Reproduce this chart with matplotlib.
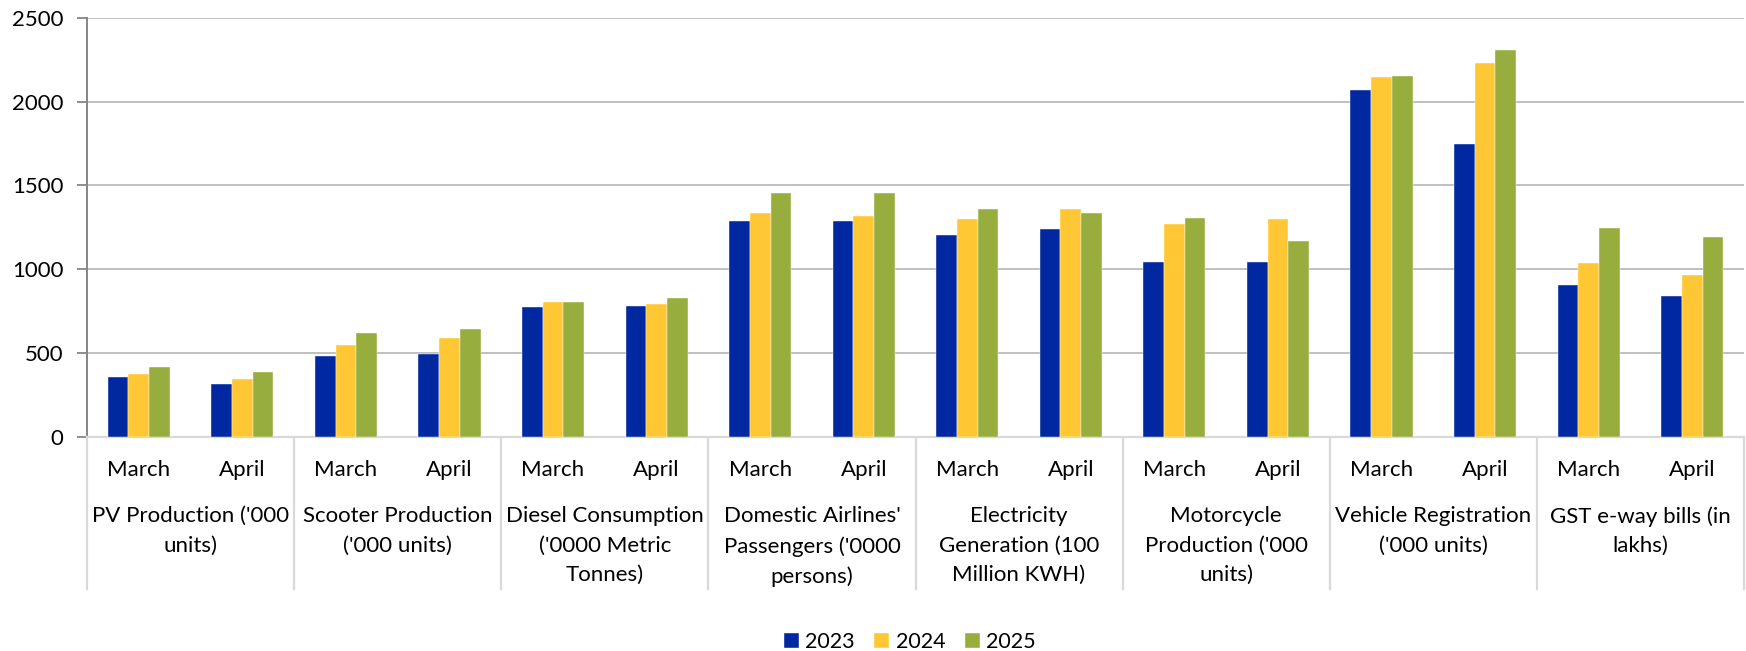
#Grouped bar chart: March/April indicators for 2023-2025
#Two level x axis (month + indicator), legend at bottom

import matplotlib.pyplot as plt
import matplotlib.transforms as mtransforms
from matplotlib.lines import Line2D
import numpy as np

# data
indicators = ["PV Production ('000\nunits)",
              "Scooter Production\n('000 units)",
              "Diesel Consumption\n('0000 Metric\nTonnes)",
              "Domestic Airlines'\nPassengers ('0000\npersons)",
              "Electricity\nGeneration (100\nMillion KWH)",
              "Motorcycle\nProduction ('000\nunits)",
              "Vehicle Registration\n('000 units)",
              "GST e-way bills (in\nlakhs)"]
months = ['March', 'April']
years = ['2023', '2024', '2025']

v2023 = [362, 315, 486, 498, 778, 782, 1290, 1290, 1203, 1239, 1042, 1046, 2070, 1749, 907, 843]
v2024 = [378, 347, 547, 593, 803, 794, 1338, 1320, 1298, 1362, 1270, 1298, 2148, 2232, 1036, 967]
v2025 = [420, 386, 621, 648, 806, 827, 1455, 1455, 1362, 1336, 1306, 1167, 2152, 2307, 1244, 1193]

colors = ['#0028A0', '#FFC733', '#97AD3D']

plt.rcParams['font.family'] = ['Lato', 'DejaVu Sans']

fig = plt.figure(figsize=(17.46, 6.51), dpi=100)
W, H = 1746, 651
# axes placed in pixel terms of the reference
x0, x1 = 87, 1744
ytop, ybot = 17.6, 437.3
ax = fig.add_axes([x0 / W, 1 - ybot / H, (x1 - x0) / W, (ybot - ytop) / H])

n = len(v2023)
centers = np.arange(n) + 0.5
bw = 0.2
for k, vals in enumerate([v2023, v2024, v2025]):
    ax.bar(centers + (k - 1) * bw, vals, width=bw, color=colors[k],
           edgecolor='white', linewidth=0.3, zorder=3, label=years[k])

ax.set_xlim(0, n)
ax.set_ylim(0, 2500)
ax.set_yticks(np.arange(0, 2501, 500))
ax.tick_params(axis='y', labelsize=16, length=7, width=1.3, color='#868686', pad=10)
ax.set_xticks([])
ax.grid(axis='y', color='#C0C0C0', linewidth=1.4, zorder=0)

for s in ['top', 'right']:
    ax.spines[s].set_visible(False)
ax.spines['left'].set_color('#868686')
ax.spines['left'].set_linewidth(1.4)
ax.spines['bottom'].set_color('#D9D9D9')
ax.spines['bottom'].set_linewidth(1.6)

# second level of the x axis drawn by hand
trans = mtransforms.blended_transform_factory(ax.transData, fig.transFigure)
for i in range(n):
    ax.text(centers[i], 1 - 470 / H, months[i % 2], transform=trans,
            ha='center', va='center', fontsize=16)
for g, lab in enumerate(indicators):
    ax.text(2 * g + 1, 1 - 506 / H, lab, transform=trans, ha='center', va='top',
            fontsize=16, linespacing=1.6)
for g in range(len(indicators) + 1):
    line = Line2D([2 * g, 2 * g], [1 - ybot / H, 1 - 589 / H], transform=trans,
                  color='#D9D9D9', linewidth=1.6, clip_on=False)
    fig.add_artist(line)

leg = fig.legend(loc='center', bbox_to_anchor=(0.521, 1 - 642 / H), ncol=3,
                 frameon=False, fontsize=15.5, handlelength=0.7, handleheight=0.7,
                 handletextpad=0.3, columnspacing=0.9)

fig.savefig('out.png', dpi=100)
